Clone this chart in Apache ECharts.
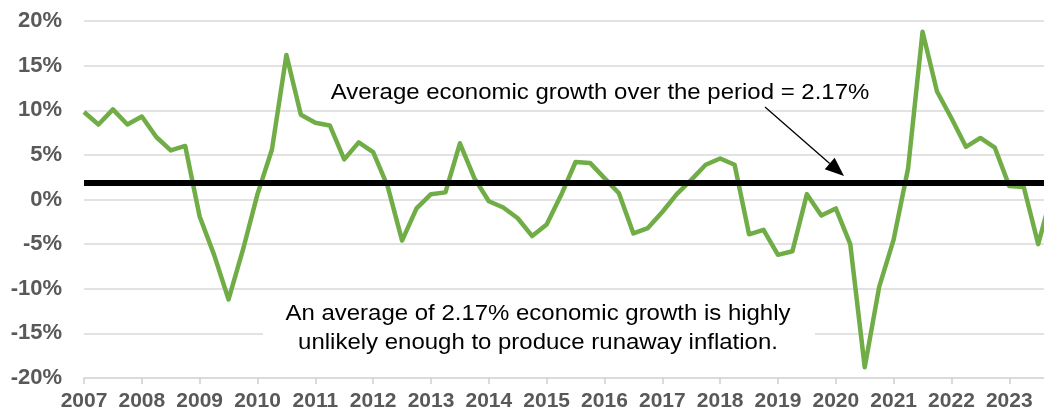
<!DOCTYPE html>
<html>
<head>
<meta charset="utf-8">
<script src="https://cdn.jsdelivr.net/npm/echarts@6/dist/echarts.min.js"></script>
<style>
html,body{margin:0;padding:0;background:#fff;}
#chart{width:1044px;height:413px;}
</style>
</head>
<body>
<div id="chart"></div>
<script>
// Quarterly categories 2007 Q1 .. 2023 Q4
const years = ['2007','2008','2009','2010','2011','2012','2013','2014','2015','2016','2017','2018','2019','2020','2021','2022','2023'];
const quarterNames = ['Q1','Q2','Q3','Q4'];
const categories = [];
years.forEach(y => quarterNames.forEach(q => categories.push(y + ' ' + q)));

// Growth values (%), one per quarter
const growth = [
  9.8, 8.4, 10.1, 8.4,
  9.3, 7.0, 5.5, 6.0,
  -1.9, -6.2, -11.2, -5.6,
  0.6, 5.6, 16.2, 9.5,
  8.6, 8.3, 4.5, 6.4,
  5.3, 1.5, -4.6, -1.0,
  0.6, 0.8, 6.3, 2.4,
  -0.2, -0.9, -2.1, -4.1,
  -2.8, 0.5, 4.2, 4.1,
  2.4, 0.7, -3.8, -3.2,
  -1.4, 0.6, 2.2, 3.9,
  4.6, 3.9, -3.9, -3.4,
  -6.2, -5.8, 0.6, -1.8,
  -1.0, -5.0, -18.8, -9.8,
  -4.5, 3.5, 18.8, 12.1,
  9.1, 5.9, 6.9, 5.8,
  1.5, 1.4, -5.0, 1.0
];

// Average line as drawn in the picture
const averageLevel = 1.9;

const yTicks = { min: -20, max: 20, interval: 5 };
// visible x range in quarters from 2007 Q1 (chart is cut at the right edge)
const xRange = { min: 0, max: 66.4, interval: 4 };

const topNote = 'Average economic growth over the period = 2.17%';
const bottomNote = 'An average of 2.17% economic growth is highly\nunlikely enough to produce runaway inflation.';

const seriesData = growth.map((v, i) => [i, v, categories[i]]);

const chart = echarts.init(document.getElementById('chart'), null, {renderer: 'canvas'});

const labelFont = 'Liberation Sans, Arial, sans-serif';

// arrow geometry
const arrowStart = [765, 107], arrowTip = [844, 176];
const dx = arrowTip[0] - arrowStart[0], dy = arrowTip[1] - arrowStart[1];
const len = Math.sqrt(dx*dx + dy*dy);
const ux = dx/len, uy = dy/len;
const headLen = 19, headHalf = 7.5;
const bx = arrowTip[0] - headLen*ux, by = arrowTip[1] - headLen*uy;
const headPts = [
  arrowTip,
  [bx - headHalf*uy, by + headHalf*ux],
  [bx + headHalf*uy, by - headHalf*ux]
];

chart.setOption({
  animation: false,
  backgroundColor: '#ffffff',
  grid: { left: 84, right: 0, top: 21, bottom: 35, containLabel: false, outerBoundsMode: 'none' },
  xAxis: {
    type: 'value',
    min: xRange.min, max: xRange.max, interval: xRange.interval,
    axisLine: { show: true, onZero: false, lineStyle: { color: '#d9d9d9', width: 1.5 } },
    axisTick: { show: true, length: 6, lineStyle: { color: '#d0d0d0', width: 1.5 } },
    axisLabel: {
      margin: 13,
      showMaxLabel: false,
      hideOverlap: false,
      color: '#595959',
      fontFamily: labelFont,
      fontWeight: 'bold',
      fontSize: 21,
      formatter: v => (v % 4 === 0 && categories[v]) ? categories[v].split(' ')[0] : ''
    },
    splitLine: { show: false }
  },
  yAxis: {
    type: 'value',
    min: yTicks.min, max: yTicks.max, interval: yTicks.interval,
    axisLine: { show: false },
    axisTick: { show: false },
    axisLabel: {
      margin: 22,
      color: '#595959',
      fontFamily: labelFont,
      fontWeight: 'bold',
      fontSize: 22,
      formatter: '{value}%'
    },
    splitLine: { show: true, lineStyle: { color: '#d9d9d9', width: 1.5 } }
  },
  series: [{
    type: 'line',
    data: seriesData,
    symbol: 'none',
    smooth: false,
    clip: true,
    lineStyle: { color: '#70ad47', width: 4.5, join: 'round' },
    z: 2,
    markLine: {
      silent: true,
      symbol: ['none', 'none'],
      label: { show: false },
      lineStyle: { color: '#000000', width: 6, type: 'solid' },
      data: [{ yAxis: averageLevel }],
      z: 3
    }
  }],
  graphic: [
    {
      type: 'text',
      x: 600, y: 93,
      scaleX: 1.115,
      z: 10,
      style: {
        text: topNote,
        x: 0, y: 0,
        align: 'center', verticalAlign: 'middle',
        font: '21.5px Liberation Sans, Arial, sans-serif',
        fill: '#000000'
      }
    },
    {
      type: 'line',
      z: 10,
      shape: { x1: arrowStart[0], y1: arrowStart[1], x2: bx, y2: by },
      style: { stroke: '#000000', lineWidth: 1.3 }
    },
    {
      type: 'polygon',
      z: 10,
      shape: { points: headPts },
      style: { fill: '#000000' }
    },
    {
      type: 'rect',
      z: 9,
      shape: { x: 263, y: 296, width: 552, height: 72 },
      style: { fill: '#ffffff' }
    },
    {
      type: 'text',
      x: 538, y: 328.5,
      scaleX: 1.115,
      z: 10,
      style: {
        text: bottomNote,
        x: 0, y: 0,
        align: 'center', verticalAlign: 'middle',
        lineHeight: 28.5,
        font: '21.5px Liberation Sans, Arial, sans-serif',
        fill: '#000000'
      }
    }
  ]
});
</script>
</body>
</html>
